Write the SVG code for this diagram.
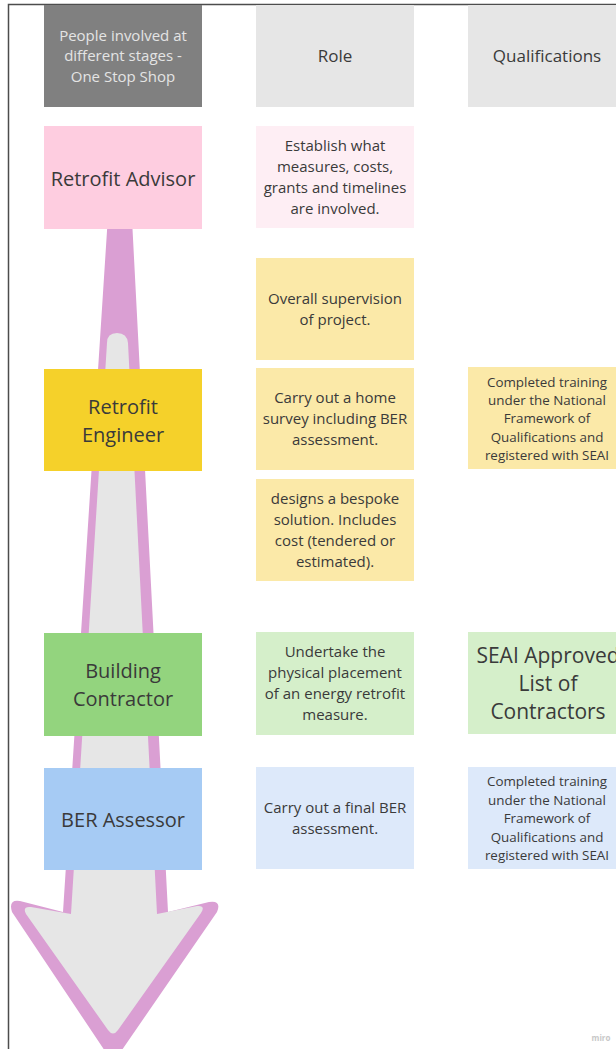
<svg xmlns="http://www.w3.org/2000/svg" width="616" height="1049" viewBox="0 0 616 1049">
  <style>
    text { font-family: "Open Sans", "Liberation Sans", sans-serif; text-anchor: middle; fill: #3a3a3a; }
    .hdr { font-size: 15px; fill: #e4e4e4; }
    .col { font-size: 17px; }
    .who { font-size: 20px; }
    .role { font-size: 15px; }
    .qual { font-size: 13.4px; }
    .big { font-size: 21px; }
    .mark { font-size: 8px; fill: #c8c8c8; font-weight: bold; }
  </style>

  <rect x="0" y="0" width="616" height="1049" fill="#ffffff"/>

  <!-- page frame -->
  <g id="frame" fill="none" stroke="#4d4d4d" stroke-width="1.5">
    <path d="M8.5 1049 V4.5 H616"/>
  </g>

  <!-- process arrow running down behind the people column -->
  <g id="connectors">
    <path d="M109 200 L63 912 L20 901 Q8 899 12 912 L113 1063 L217 912 Q222 900 209 902 L168 912 L131 200 Z" fill="#da9fd3"/>
    <path d="M107 343 Q107 333 117 333 Q127 333 128 343 L157 914 L197 906 Q206 905 201 913 L118 1030 Q113 1037 108 1030 L26 914 Q22 906 31 907 L71 914 Z" fill="#e6e6e6"/>
  </g>

  <!-- column headers -->
  <g id="header-people">
    <rect x="44" y="5" width="158" height="102" fill="#808080"/>
    <text class="hdr" x="123" y="41">People involved at</text>
    <text class="hdr" x="123" y="61">different stages -</text>
    <text class="hdr" x="123" y="82">One Stop Shop</text>
  </g>
  <g id="header-role">
    <rect x="256" y="5" width="158" height="102" fill="#e6e6e6"/>
    <text class="col" x="335" y="62">Role</text>
  </g>
  <g id="header-qualifications">
    <rect x="468" y="5" width="158" height="102" fill="#e6e6e6"/>
    <text class="col" x="547" y="62">Qualifications</text>
  </g>

  <!-- Retrofit Advisor -->
  <g id="retrofit-advisor">
    <rect x="44" y="126" width="158" height="103" fill="#fecde0"/>
    <text class="who" x="123" y="186">Retrofit Advisor</text>
  </g>
  <g id="advisor-role">
    <rect x="256" y="126" width="158" height="102" fill="#feeef4"/>
    <text class="role" x="335" y="151">Establish what</text>
    <text class="role" x="335" y="172">measures, costs,</text>
    <text class="role" x="335" y="193">grants and timelines</text>
    <text class="role" x="335" y="214">are involved.</text>
  </g>

  <!-- Retrofit Engineer -->
  <g id="engineer-supervision">
    <rect x="256" y="258" width="158" height="102" fill="#fbe9a8"/>
    <text class="role" x="335" y="304">Overall supervision</text>
    <text class="role" x="335" y="325">of project.</text>
  </g>
  <g id="retrofit-engineer">
    <rect x="44" y="369" width="158" height="102" fill="#f5d12a"/>
    <text class="who" x="123" y="414">Retrofit</text>
    <text class="who" x="123" y="442">Engineer</text>
  </g>
  <g id="engineer-survey">
    <rect x="256" y="368" width="158" height="102" fill="#fbe9a8"/>
    <text class="role" x="335" y="403">Carry out a home</text>
    <text class="role" x="335" y="424">survey including BER</text>
    <text class="role" x="335" y="445">assessment.</text>
  </g>
  <g id="engineer-qualification">
    <rect x="468" y="367" width="158" height="102" fill="#fbe9a8"/>
    <text class="qual" x="547" y="387">Completed training</text>
    <text class="qual" x="547" y="405">under the National</text>
    <text class="qual" x="547" y="423">Framework of</text>
    <text class="qual" x="547" y="442">Qualifications and</text>
    <text class="qual" x="547" y="460">registered with SEAI</text>
  </g>
  <g id="engineer-design">
    <rect x="256" y="479" width="158" height="102" fill="#fbe9a8"/>
    <text class="role" x="335" y="504">designs a bespoke</text>
    <text class="role" x="335" y="525">solution. Includes</text>
    <text class="role" x="335" y="546">cost (tendered or</text>
    <text class="role" x="335" y="567">estimated).</text>
  </g>

  <!-- Building Contractor -->
  <g id="building-contractor">
    <rect x="44" y="633" width="158" height="103" fill="#93d47e"/>
    <text class="who" x="123" y="678">Building</text>
    <text class="who" x="123" y="706">Contractor</text>
  </g>
  <g id="contractor-role">
    <rect x="256" y="632" width="158" height="103" fill="#d5efca"/>
    <text class="role" x="335" y="657">Undertake the</text>
    <text class="role" x="335" y="678">physical placement</text>
    <text class="role" x="335" y="699">of an energy retrofit</text>
    <text class="role" x="335" y="720">measure.</text>
  </g>
  <g id="contractor-qualification">
    <rect x="468" y="632" width="158" height="102" fill="#d5efca"/>
    <text class="big" x="548" y="663">SEAI Approved</text>
    <text class="big" x="548" y="691">List of</text>
    <text class="big" x="548" y="719">Contractors</text>
  </g>

  <!-- BER Assessor -->
  <g id="ber-assessor">
    <rect x="44" y="768" width="158" height="102" fill="#a6cbf4"/>
    <text class="who" x="123" y="827">BER Assessor</text>
  </g>
  <g id="assessor-role">
    <rect x="256" y="767" width="158" height="102" fill="#dde9fa"/>
    <text class="role" x="335" y="813">Carry out a final BER</text>
    <text class="role" x="335" y="834">assessment.</text>
  </g>
  <g id="assessor-qualification">
    <rect x="468" y="767" width="158" height="102" fill="#dde9fa"/>
    <text class="qual" x="547" y="786">Completed training</text>
    <text class="qual" x="547" y="805">under the National</text>
    <text class="qual" x="547" y="823">Framework of</text>
    <text class="qual" x="547" y="842">Qualifications and</text>
    <text class="qual" x="547" y="860">registered with SEAI</text>
  </g>

  <text class="mark" x="601" y="1041">miro</text>
</svg>
